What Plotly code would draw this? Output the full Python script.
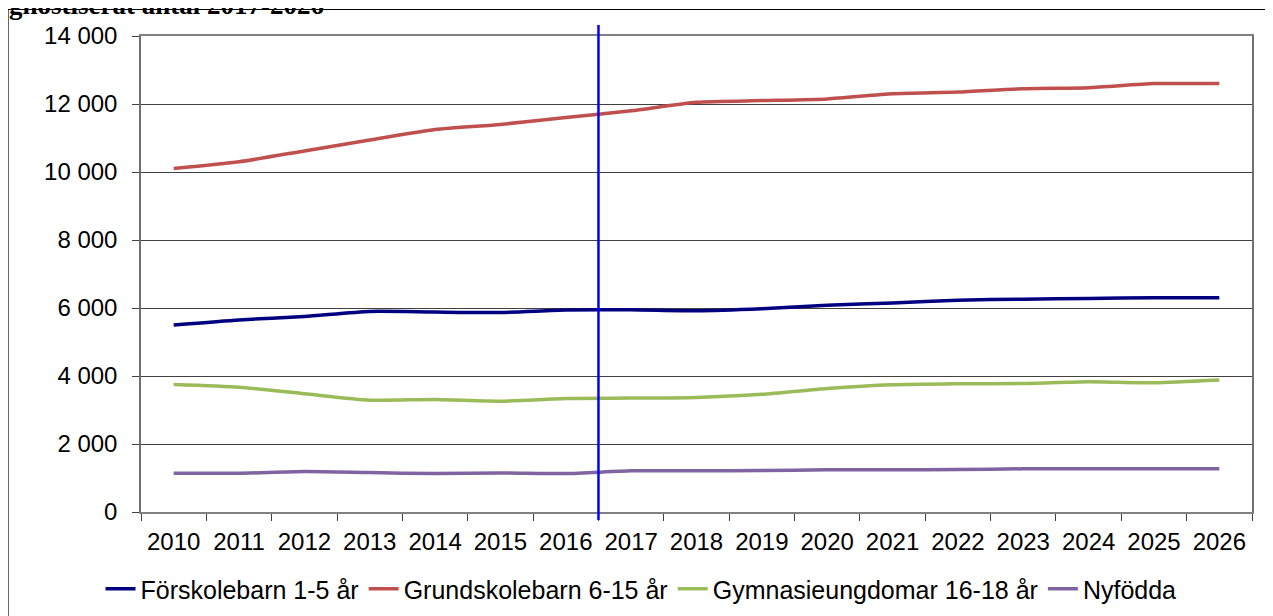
import plotly.graph_objects as go

years = [str(y) for y in range(2010, 2027)]
forskolebarn = [5500, 5650, 5750, 5900, 5880, 5870, 5940, 5950, 5920, 5980, 6080, 6150, 6230, 6260, 6280, 6300, 6300]
grundskolebarn = [10100, 10300, 10620, 10940, 11250, 11400, 11600, 11800, 12050, 12100, 12150, 12300, 12350, 12450, 12480, 12600, 12600]
gymnasie = [3750, 3670, 3480, 3290, 3310, 3260, 3340, 3350, 3370, 3460, 3630, 3740, 3770, 3780, 3830, 3800, 3880]
nyfodda = [1140, 1140, 1190, 1160, 1130, 1150, 1130, 1210, 1210, 1220, 1240, 1240, 1250, 1270, 1270, 1270, 1270]

series_names = ["Förskolebarn 1-5 år", "Grundskolebarn 6-15 år", "Gymnasieungdomar 16-18 år", "Nyfödda"]
series_values = [forskolebarn, grundskolebarn, gymnasie, nyfodda]
series_colors = ["#000080", "#C0504D", "#9BBB59", "#8064A2"]

y_tickvals = [0, 2000, 4000, 6000, 8000, 10000, 12000, 14000]
y_ticktext = ["0", "2 000", "4 000", "6 000", "8 000", "10 000", "12 000", "14 000"]

title_text = "gnostiserat antal 2017-2026"

W, H = 1273, 616
OFF = 8  # page offset of the figure (body margin)
# plot area in page pixels
PL, PR, PT, PB = 141, 1252, 36, 512
L, R, T, B = PL - OFF, PR - OFF, PT - OFF, PB - OFF

def px(x):
    return (x - PL) / (PR - PL)

def py(y):
    return (PB - y) / (PB - PT)

fig = go.Figure()
for name, vals, col in zip(series_names, series_values, series_colors):
    fig.add_trace(go.Scatter(
        x=years, y=vals, name=name, mode="lines",
        line=dict(color=col, width=3.5, shape="spline", smoothing=0.6),
    ))

# forecast divider between 2016 and 2017
fig.add_shape(type="line", xref="x", yref="paper", x0=6.5, x1=6.5,
              y0=py(520), y1=py(25), line=dict(color="#0000FF", width=2.5))
# outer frame
fig.add_shape(type="rect", xref="paper", yref="paper",
              x0=px(8), x1=px(1271), y0=py(660), y1=py(9.5),
              line=dict(color="black", width=1.2), layer="above")

fig.add_annotation(text="<b>" + title_text + "</b>", xref="paper", yref="paper",
                   x=px(7), y=py(21.5), xanchor="left", yanchor="bottom", showarrow=False,
                   font=dict(family="Liberation Serif", size=27, color="black"))

fig.update_layout(
    width=W, height=H,
    margin=dict(l=L, r=W - R, t=T, b=H - B, autoexpand=False),
    paper_bgcolor="white", plot_bgcolor="white",
    font=dict(family="Liberation Sans", size=24, color="black"),
    showlegend=True,
    legend=dict(orientation="h", xref="container", x=(641 - OFF) / W, xanchor="center",
                y=py(589), yanchor="middle",
                font=dict(size=25), tracegroupgap=0),
)
fig.update_xaxes(type="category", range=[-0.5, 16.5], tickson="boundaries",
                 ticks="outside", ticklen=7, tickcolor="#404040",
                 showline=True, linecolor="#808080", linewidth=1.5, mirror=True,
                 showgrid=False, ticklabelstandoff=7, automargin=False)
fig.update_yaxes(range=[0, 14000], tickvals=y_tickvals, ticktext=y_ticktext,
                 ticks="outside", ticklen=7, tickcolor="#404040",
                 showline=True, linecolor="#707070", linewidth=1.5, mirror=True,
                 showgrid=True, gridcolor="#404040", gridwidth=1,
                 zeroline=False, ticklabelstandoff=10, automargin=False)

fig.write_html("out.html")
